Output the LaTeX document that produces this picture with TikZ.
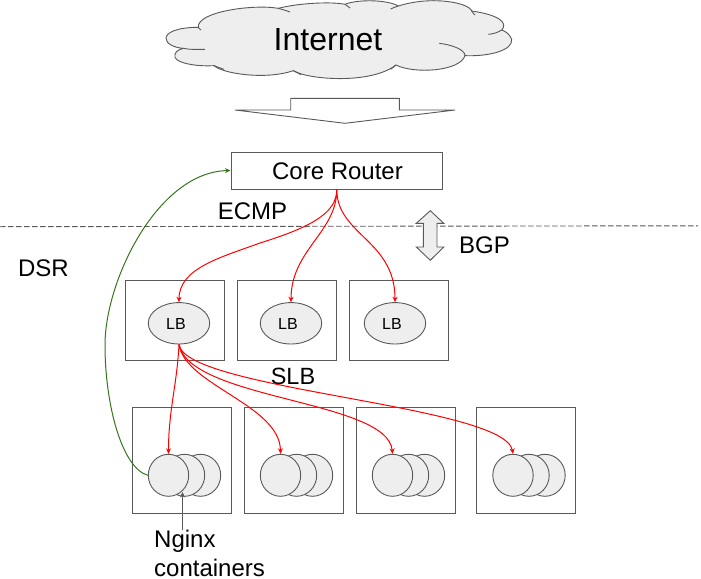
\documentclass[tikz,border=0pt]{standalone}
\usepackage{fontspec}
\setmainfont{Liberation Sans}
\usetikzlibrary{shapes.geometric,arrows.meta}
\definecolor{lgr}{HTML}{EEEEEE}
\definecolor{dgr}{HTML}{595959}
\definecolor{dsr}{HTML}{38761D}
\tikzset{
 box/.style={draw=dgr,line width=1pt,fill=white,inner sep=0pt,minimum width=#1},
 lbbox/.style={box=99.4pt,minimum height=80pt},
 ctbox/.style={box=99pt,minimum height=106pt},
 lbell/.style={ellipse,draw=dgr,line width=0.9pt,fill=lgr,minimum width=61.4pt,minimum height=41.4pt,inner sep=0pt},
 ctell/.style={ellipse,draw=dgr,line width=0.9pt,fill=lgr,minimum width=40.4pt,minimum height=42pt,inner sep=0pt},
 lbl/.style={inner sep=0pt,font=\fontsize{#1}{#1}\selectfont,text=black},
 redline/.style={draw=red,line width=1pt,-{Stealth[length=5.5pt,width=5pt]}},
 greenline/.style={draw=dsr,line width=1pt,-{Stealth[length=5.5pt,width=5pt]}},
 shape line/.style={draw=dgr,line width=0.9pt,line join=miter},
}
\begin{document}
\begin{tikzpicture}[x=1pt,y=-1pt]
\useasboundingbox (0,0) rectangle (701,578);
\fill[white] (0,0) rectangle (701,578);
% cloud
\begin{scope}[shift={(150,0)},x=0.3333pt,y=-0.3333pt]
\path[fill=lgr,shape line]
 (145,82) .. controls (80,82) and (48,98) .. (48,115)
 .. controls (48,130) and (70,143) .. (100,145)
 .. controls (80,150) and (72,160) .. (75,172)
 .. controls (82,190) and (140,200) .. (192,197)
 .. controls (220,222) and (350,240) .. (430,212)
 .. controls (470,238) and (660,255) .. (738,195)
 .. controls (790,222) and (930,215) .. (945,167)
 .. controls (1020,170) and (1090,150) .. (1085,118)
 .. controls (1080,105) and (1070,95) .. (1055,90)
 .. controls (1075,70) and (1050,45) .. (965,33)
 .. controls (960,10) and (850,-15) .. (745,18)
 .. controls (710,-2) and (620,-2) .. (585,13)
 .. controls (550,5) and (450,8) .. (385,25)
 .. controls (310,12) and (140,35) .. (145,82) -- cycle;
\draw[shape line] (100,145) .. controls (125,150) and (145,148) .. (165,148);
\draw[shape line] (145,82) .. controls (146,85) and (150,88) .. (153,90);
\draw[shape line] (192,197) .. controls (200,200) and (210,204) .. (222,208);
\draw[shape line] (385,25) .. controls (395,28) and (410,32) .. (420,36);
\draw[shape line] (585,13) .. controls (590,17) and (596,20) .. (600,24);
\draw[shape line] (745,18) .. controls (738,20) and (730,23) .. (722,27);
\draw[shape line] (965,33) .. controls (968,38) and (972,42) .. (975,45);
\draw[shape line] (1055,90) .. controls (1045,97) and (1030,102) .. (1015,103);
\draw[shape line] (945,167) .. controls (945,150) and (910,135) .. (868,130);
\draw[shape line] (738,195) .. controls (733,200) and (728,203) .. (722,208);
\draw[shape line] (430,212) .. controls (438,215) and (445,220) .. (452,224);
\end{scope}
\node[lbl=32] (internet) at (328,40) {Internet};
% block arrow
\path[fill=white,shape line] (235,110) -- (290.7,110) -- (290.7,98.3) -- (399.3,98.3) -- (399.3,110) -- (455,110) -- (345,123.3) -- cycle;
% dashed line
\coordinate (dashl) at (0,226.7);
\coordinate (dashr) at (698,225.8);
\draw[draw=dgr,line width=0.9pt,dash pattern=on 5.5pt off 2.5pt] (dashl) -- (dashr);
% BGP double arrow
\path[fill=lgr,shape line] (430.3,210.7) -- (443.7,223.3) -- (437,223.3) -- (437,247) -- (443.7,247) -- (430.3,260.3) -- (416.3,247) -- (423.3,247) -- (423.3,223.3) -- (416.3,223.3) -- cycle;
% core
\node[box=211.5pt,minimum height=37pt] (core) at (336.75,170.5) {};
\node[lbl=24] (corelabel) at (337.5,171) {Core Router};
% LB boxes
\node[lbbox] (b1) at (175,320.3) {};
\node[lbbox] (b2) at (287,320.3) {};
\node[lbbox] (b3) at (399,320.3) {};
\node[lbell] (lb1) at (179,323.3) {};
\node[lbell] (lb2) at (291,323.3) {};
\node[lbell] (lb3) at (395,323.3) {};
\node[lbl=16] (lbt1) at (176,323.5) {LB};
\node[lbl=16] (lbt2) at (288,323.5) {LB};
\node[lbl=16] (lbt3) at (392,323.5) {LB};
% container boxes
\node[ctbox] (k1) at (181.8,460.3) {};
\node[ctbox] (k2) at (293.8,460.3) {};
\node[ctbox] (k3) at (405.8,460.3) {};
\node[ctbox] (k4) at (526,460.3) {};
\foreach \n/\x in {1/168.5,2/280.5,3/392.5,4/513}{
 \node[ctell] (c\n c) at (\x+32,475.3) {};
 \node[ctell] (c\n b) at (\x+16,475.3) {};
 \node[ctell] (c\n a) at (\x,475.3) {};
}
% labels
\node[lbl=24] (ecmp) at (252.5,211) {ECMP};
\node[lbl=24] (bgp) at (484.5,245.5) {BGP};
\node[lbl=24] (dsrt) at (43.5,268) {DSR};
\node[lbl=23.5] (slb) at (293,376) {SLB};
\node[lbl=24,anchor=base west] (ngx) at (154,547.5) {Nginx};
\node[lbl=24,anchor=base west] (cont) at (154,576) {containers};
% red connectors
\draw[redline] (core.south) .. controls (337,214) and (308,228) .. (260,243) .. controls (222,257) and (179,268) .. (lb1.north);
\draw[redline] (core.south) .. controls (337,232) and (291,250) .. (lb2.north);
\draw[redline] (core.south) .. controls (337,235) and (395,240) .. (lb3.north);
\draw[redline] (lb1.south) .. controls (177,385) and (168.5,410) .. (c1a.north);
\draw[redline] (lb1.south) .. controls (185,385) and (280,405) .. (c2a.north);
\draw[redline] (lb1.south) .. controls (190,400) and (388,400) .. (c3a.north);
\draw[redline] (lb1.south) .. controls (185,390) and (505,405) .. (c4a.north);
% green
\draw[greenline] (c1a.west) .. controls (122,468) and (105,405) .. (105,345) .. controls (105,280) and (158,172) .. (core.west);
% nginx pointer
\coordinate (ngxtip) at (182.5,492);
\draw[draw=dgr,line width=1pt,-{Stealth[length=5.5pt,width=5pt]}] (ngxtip |- ngx.north) -- (ngxtip);
\end{tikzpicture}
\end{document}
